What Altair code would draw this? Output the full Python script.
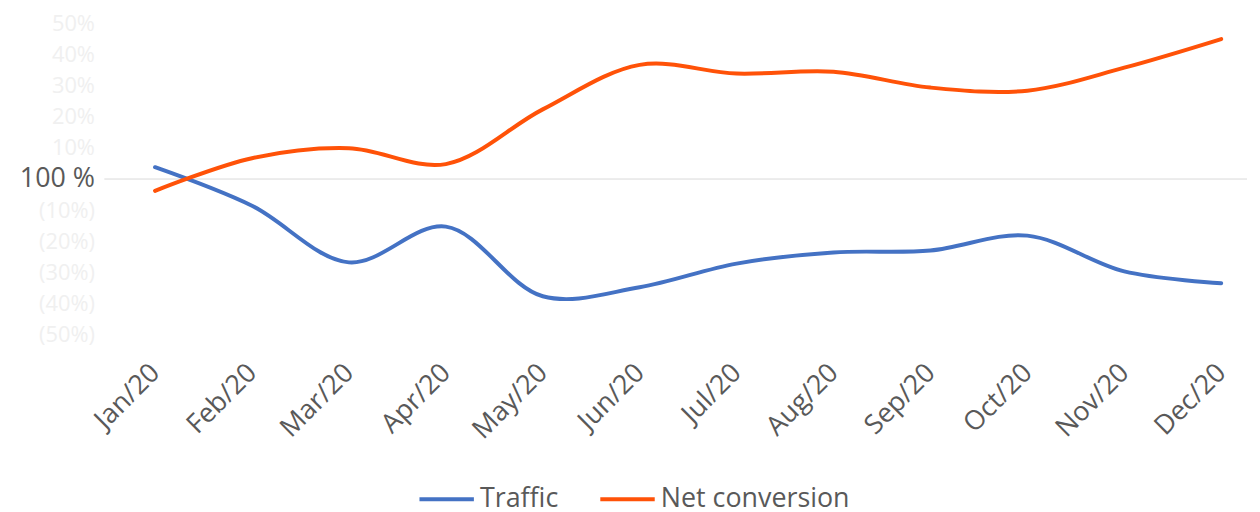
import altair as alt
import pandas as pd

months = ["Jan/20", "Feb/20", "Mar/20", "Apr/20", "May/20", "Jun/20",
          "Jul/20", "Aug/20", "Sep/20", "Oct/20", "Nov/20", "Dec/20"]
traffic = [3.8, -8.6, -26.8, -15.3, -37.7, -34.8, -27.2, -23.6, -23.0, -18.2, -29.7, -33.5]
net_conversion = [-3.8, 6.7, 9.9, 4.8, 22.4, 36.7, 33.9, 34.5, 29.4, 28.4, 35.8, 45.0]
series_names = ["Traffic", "Net conversion"]
series_colors = ["#4472C4", "#FF5208"]

rows = []
for m, t, n in zip(months, traffic, net_conversion):
    rows.append({"month": m, "series": "Traffic", "value": t})
    rows.append({"month": m, "series": "Net conversion", "value": n})
df = pd.DataFrame(rows)

FONT = "Open Sans"
FS = 27

label_expr = ("datum.value == 0 ? '100 %' : (datum.value > 0 ? datum.value + '%' : "
              "'(' + abs(datum.value) + '%)')")

x_enc = alt.X("month:N", sort=months, title=None,
              scale=alt.Scale(type="point", range=[51, 1124], padding=0),
              axis=alt.Axis(labelAngle=-45, labelAlign="right", labelBaseline="middle",
                            labelPadding=34, labelFontSize=FS, labelColor="#595959",
                            labelFont=FONT, domain=False, ticks=False, grid=False,
                            labelOverlap=False))
y_enc = alt.Y("value:Q", title=None,
              scale=alt.Scale(domain=[-50, 50], nice=False, zero=False),
              axis=alt.Axis(values=[-50, -40, -30, -20, -10, 0, 10, 20, 30, 40, 50],
                            labelExpr=label_expr, labelFont=FONT,
                            labelFontSize=alt.condition("datum.value == 0", alt.value(FS), alt.value(22)),
                            labelColor=alt.condition("datum.value == 0", alt.value("#595959"), alt.value("#F0F0F0")),
                            labelPadding=10, domain=False, ticks=False, grid=False,
                            labelOverlap=False))

zero_rule = alt.Chart(pd.DataFrame({"value": [0]})).mark_rule(color="#D9D9D9", strokeWidth=1).encode(
    y=y_enc
)

lines = alt.Chart(df).mark_line(strokeWidth=4, interpolate="catmull-rom", strokeCap="round").encode(
    x=x_enc,
    y=y_enc,
    color=alt.Color("series:N", sort=series_names,
                    scale=alt.Scale(domain=series_names, range=series_colors),
                    legend=alt.Legend(title=None, orient="none", direction="horizontal",
                                      legendX=315, legendY=449,
                                      symbolType="stroke", symbolStrokeWidth=4, symbolSize=3000,
                                      labelFontSize=FS, labelFont=FONT, labelColor="#595959",
                                      labelLimit=400, columnPadding=34, labelOffset=4)),
)

chart = alt.layer(zero_rule, lines).properties(
    width=1150, height=313,
    autosize=alt.AutoSizeParams(type="none"),
    padding={"left": 97, "top": 14, "right": 5, "bottom": 177},
    background="white",
).configure_view(stroke=None, strokeWidth=0)

chart.save("out.html", embed_options={"renderer": "svg", "actions": False})
